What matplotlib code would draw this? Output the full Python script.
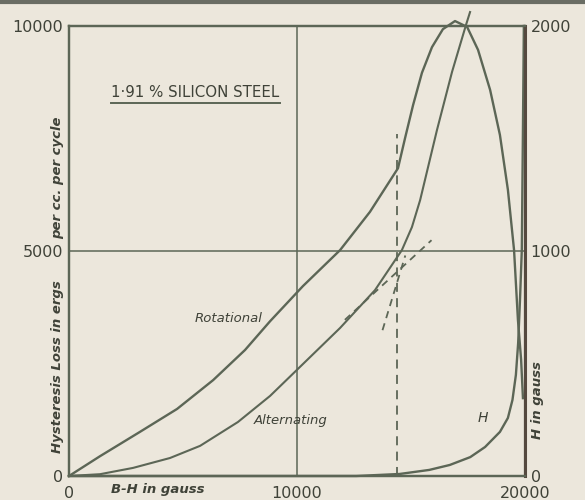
import matplotlib
matplotlib.use("Agg")
import matplotlib.pyplot as plt

# B-H (gauss) and hysteresis loss (ergs per cc per cycle)
rot_bh = [0, 1360, 3110, 4740, 6320, 7720, 8820, 10260, 11890, 13200,
          14430, 14740, 15090, 15480, 15920, 16400, 16930, 17460, 17940,
          18470, 18900, 19250, 19520, 19690, 19830, 19910]
rot_loss = [0, 440, 980, 1490, 2130, 2800, 3440, 4220, 5020, 5870,
            6840, 7510, 8240, 8960, 9530, 9930, 10110, 9980, 9470,
            8580, 7580, 6360, 5020, 3470, 2580, 1730]

alt_bh = [0, 1360, 2810, 4430, 5750, 7410, 8820, 10000, 11890, 13420,
          14600, 15040, 15400, 16140, 16800, 17410, 17590]
alt_loss = [0, 40, 180, 400, 670, 1200, 1780, 2360, 3290, 4130,
            5020, 5530, 6130, 7690, 8980, 10020, 10310]

# magnetising force H (gauss), right-hand scale
h_bh = [0, 12600, 14500, 15800, 16700, 17600, 18250, 18900, 19250,
        19450, 19600, 19700, 19780, 19860, 19910, 19950]
h_val = [0, 0, 9, 27, 49, 84, 129, 196, 258,
         338, 449, 591, 782, 1004, 1540, 2000]

# construction lines
knee_bh = [14400, 14400]
knee_loss = [0, 7600]
tan1_bh = [12100, 15900]
tan1_loss = [3470, 5240]
tan2_bh = [13750, 14750]
tan2_loss = [3240, 4900]

left_ticks = [0, 5000, 10000]
right_ticks = [0, 1000, 2000]
x_ticks = [0, 10000, 20000]

paper = '#ece7dc'
ink = '#5c6656'
txt = '#3f4238'

fig = plt.figure(figsize=(5.85, 5.0), dpi=100)
fig.patch.set_facecolor(paper)
ax = fig.add_axes([69 / 585, 24 / 500, 456 / 585, 450 / 500])
ax.set_facecolor(paper)
ax.set_xlim(0, 20000)
ax.set_ylim(0, 10000)

ax.axvline(10000, color=ink, lw=1.1)
ax.axhline(5000, color=ink, lw=1.1)

ax.plot(rot_bh, rot_loss, color=ink, lw=1.7, clip_on=False)
ax.plot(alt_bh, alt_loss, color=ink, lw=1.5, clip_on=False)
ax.plot(knee_bh, knee_loss, color=ink, lw=1.3, ls=(0, (5, 3.5)))
ax.plot(tan1_bh, tan1_loss, color=ink, lw=1.3, ls=(0, (4, 3)))
ax.plot(tan2_bh, tan2_loss, color=ink, lw=1.3, ls=(0, (4, 3)))

ax2 = ax.twinx()
ax2.set_ylim(0, 2000)
ax2.plot(h_bh, h_val, color=ink, lw=1.7, clip_on=False)

for a in (ax, ax2):
    for s in a.spines.values():
        s.set_color(ink)
        s.set_linewidth(1.6)
ax2.spines['right'].set_color('#55493f')
ax2.spines['right'].set_linewidth(2.2)

ax.set_xticks(x_ticks)
ax.set_xticklabels([str(v) for v in x_ticks])
ax.set_yticks(left_ticks)
ax.set_yticklabels([str(v) for v in left_ticks])
ax2.set_yticks(right_ticks)
ax2.set_yticklabels([str(v) for v in right_ticks])
ax.tick_params(axis='both', length=0, labelsize=11.5, labelcolor=txt)
ax.tick_params(axis='x', pad=7)
ax.tick_params(axis='y', pad=4)
ax2.tick_params(axis='y', length=0, labelsize=11.5, labelcolor=txt, pad=4)

# curve names
ax.text(7000, 3510, 'Rotational', fontsize=9.5, style='italic',
        color=txt, ha='center', va='center')
ax.text(9700, 1240, 'Alternating', fontsize=9.5, style='italic',
        color=txt, ha='center', va='center')
ax.text(18150, 1290, 'H', fontsize=10, style='italic',
        color=txt, ha='center', va='center')

# heading with underline
ax.text(0.092, 0.852, '1·91 % SILICON STEEL', transform=ax.transAxes,
        fontsize=10.8, color=txt, ha='left', va='center')
ax.plot([0.092, 0.463], [0.829, 0.829], transform=ax.transAxes,
        color=ink, lw=1.4)

# axis titles
lab = dict(fontsize=9.5, style='italic', weight='bold', color=txt,
           ha='center', va='center')
fig.text(58 / 585, 1 - 367 / 500, 'Hysteresis Loss in ergs', rotation=90, **lab)
fig.text(58 / 585, 1 - 178 / 500, 'per cc. per cycle', rotation=90, **lab)
fig.text(158 / 585, 1 - 490 / 500, 'B-H in gauss', **lab)
fig.text(538 / 585, 1 - 400 / 500, 'H in gauss', rotation=90, **lab)

# dark edge along the top of the sheet
fig.add_artist(plt.Line2D([0, 1], [0.996, 0.996], transform=fig.transFigure,
                          color='#6a6d64', lw=3))

fig.savefig('out.png', dpi=100, facecolor=paper)
